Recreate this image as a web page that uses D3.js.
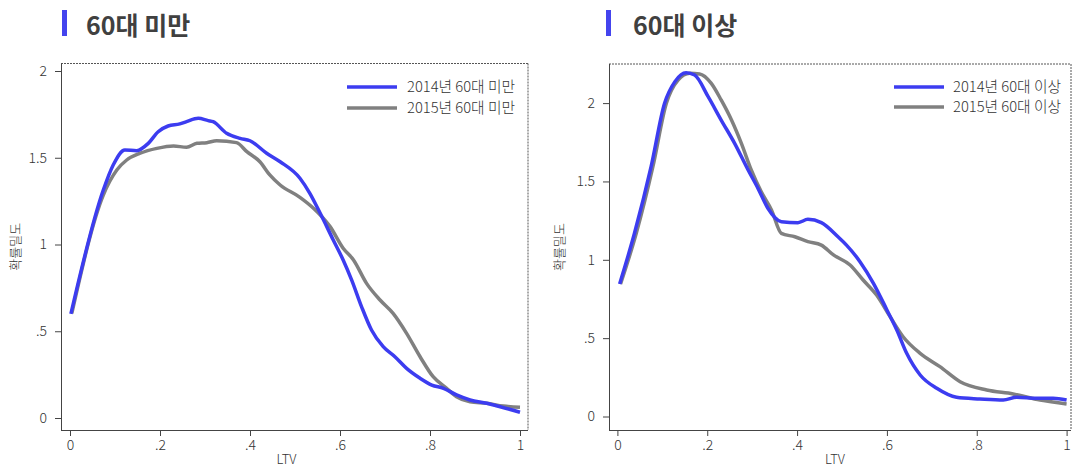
<!DOCTYPE html>
<html><head><meta charset="utf-8">
<script src="https://cdn.jsdelivr.net/npm/d3@7"></script>
<style>
body{margin:0;background:#fff;}
svg{display:block;}
text{font-family:"Noto Sans CJK KR","Noto Sans",sans-serif;}
</style></head>
<body><svg id="c" width="1072" height="468"></svg>
<script>
// ---- data ----
const titles = ["60대 미만", "60대 이상"];
const legendLabels = [["2014년 60대 미만", "2015년 60대 미만"], ["2014년 60대 이상", "2015년 60대 이상"]];
const xTicks = [0, 0.2, 0.4, 0.6, 0.8, 1];
const xTickLabels = ["0", ".2", ".4", ".6", ".8", "1"];
const yTicks = [0, 0.5, 1, 1.5, 2];
const yTickLabels = ["0", ".5", "1", "1.5", "2"];
const xLabel = "LTV";
const yLabel = "확률밀도";

// 60대 미만
const under2014 = [[0.002,0.60],[0.074,1.314],[0.096,1.458],[0.122,1.545],[0.148,1.541],[0.174,1.583],[0.196,1.650],[0.218,1.683],[0.244,1.695],[0.259,1.708],[0.285,1.727],[0.307,1.714],[0.318,1.708],[0.348,1.641],[0.378,1.612],[0.40,1.598],[0.437,1.526],[0.467,1.477],[0.511,1.382],[0.533,1.295],[0.556,1.18],[0.585,1.026],[0.607,0.911],[0.626,0.795],[0.648,0.641],[0.670,0.507],[0.696,0.411],[0.722,0.353],[0.748,0.286],[0.778,0.229],[0.804,0.190],[0.830,0.171],[0.859,0.133],[0.889,0.104],[0.926,0.085],[0.956,0.065],[1.0,0.033]];
const under2015 = [[0.004,0.603],[0.074,1.285],[0.104,1.429],[0.126,1.487],[0.156,1.526],[0.193,1.554],[0.23,1.568],[0.259,1.560],[0.282,1.583],[0.304,1.587],[0.326,1.598],[0.370,1.587],[0.393,1.535],[0.422,1.477],[0.444,1.401],[0.467,1.343],[0.511,1.272],[0.541,1.209],[0.578,1.103],[0.607,0.978],[0.630,0.911],[0.659,0.776],[0.689,0.680],[0.718,0.603],[0.748,0.488],[0.778,0.353],[0.807,0.238],[0.837,0.171],[0.859,0.123],[0.889,0.094],[0.926,0.085],[0.963,0.069],[1.0,0.062]];
// 60대 이상
const over2014 = [[0.005,0.846],[0.038,1.169],[0.075,1.594],[0.105,1.999],[0.128,2.137],[0.153,2.194],[0.172,2.179],[0.202,2.041],[0.231,1.892],[0.261,1.743],[0.291,1.573],[0.313,1.456],[0.335,1.329],[0.365,1.243],[0.402,1.237],[0.424,1.258],[0.454,1.237],[0.491,1.147],[0.510,1.094],[0.540,0.988],[0.570,0.850],[0.600,0.680],[0.622,0.552],[0.644,0.403],[0.674,0.265],[0.711,0.180],[0.755,0.123],[0.807,0.112],[0.859,0.105],[0.889,0.123],[0.933,0.116],[0.970,0.116],[1.0,0.105]];
const over2015 = [[0.007,0.846],[0.042,1.169],[0.079,1.594],[0.109,1.999],[0.135,2.147],[0.161,2.19],[0.183,2.186],[0.209,2.126],[0.231,2.02],[0.254,1.892],[0.276,1.743],[0.298,1.573],[0.32,1.435],[0.343,1.318],[0.365,1.169],[0.395,1.147],[0.424,1.116],[0.454,1.094],[0.481,1.031],[0.518,0.967],[0.547,0.871],[0.577,0.775],[0.607,0.637],[0.636,0.509],[0.674,0.403],[0.718,0.318],[0.763,0.222],[0.822,0.169],[0.881,0.144],[0.941,0.105],[1.0,0.080]];

const seriesSets = [[under2014, under2015], [over2014, over2015]];
const colors = ["#3c3cf0", "#808080"];

// ---- layout ----
const panels = [
  {frame:[61, 63.5, 528, 430], xr:[70, 520], yr:[418, 71], barX:62, titleX:86, legX:347, legTextX:407, legY:[87,108], yLabX:20},
  {frame:[609, 64, 1071, 430], xr:[617.4, 1066.6], yr:[416.5, 103.1], barX:606, titleX:633, legX:894, legTextX:953, legY:[87,107], yLabX:564}
];

const svg = d3.select("#c");

panels.forEach((p, i) => {
  const g = svg.append("g");
  const x = d3.scaleLinear().domain([0,1]).range(p.xr);
  const y = d3.scaleLinear().domain([0,2]).range(p.yr);
  const [fx0, fy0, fx1, fy1] = p.frame;

  // title
  g.append("rect").attr("x", p.barX).attr("y", 10).attr("width", 5).attr("height", 26).attr("fill", "#4444ee");
  g.append("text").attr("x", p.titleX).attr("y", 35).attr("font-size", 25).attr("font-weight", 700)
    .attr("fill", "#404040").text(titles[i]);

  // frame: top/right fine dotted, left/bottom solid
  g.append("line").attr("x1", fx0).attr("x2", fx1).attr("y1", fy0).attr("y2", fy0)
    .attr("stroke", "#555").attr("stroke-width", 1).attr("stroke-dasharray", "2,1");
  g.append("line").attr("x1", fx1).attr("x2", fx1).attr("y1", fy0).attr("y2", fy1)
    .attr("stroke", "#555").attr("stroke-width", 1).attr("stroke-dasharray", "2,1");

  // axes
  const xAxis = d3.axisBottom(x).tickValues(xTicks).tickFormat((d, k) => xTickLabels[k]).tickSizeOuter(0).tickSize(6).tickPadding(4);
  const yAxis = d3.axisLeft(y).tickValues(yTicks).tickFormat((d, k) => yTickLabels[k]).tickSizeOuter(0).tickSize(6).tickPadding(8);

  const gx = g.append("g").attr("transform", `translate(0,${fy1})`).call(xAxis);
  gx.select(".domain").remove();
  gx.append("line").attr("x1", fx0).attr("x2", fx1).attr("y1", 0.5).attr("y2", 0.5).attr("stroke", "#444");
  gx.selectAll(".tick line").attr("stroke", "#444");
  gx.selectAll(".tick text").attr("font-size", 14).attr("font-weight", 300).attr("fill", "#333")
    .attr("font-family", "'Noto Sans CJK KR', sans-serif");

  const gy = g.append("g").attr("transform", `translate(${fx0},0)`).call(yAxis);
  gy.select(".domain").remove();
  gy.append("line").attr("x1", 0.5).attr("x2", 0.5).attr("y1", fy0).attr("y2", fy1).attr("stroke", "#444");
  gy.selectAll(".tick line").attr("stroke", "#444");
  gy.selectAll(".tick text").attr("font-size", 14).attr("font-weight", 300).attr("fill", "#333")
    .attr("font-family", "'Noto Sans CJK KR', sans-serif");

  // axis titles
  g.append("text").attr("x", (fx0 + fx1) / 2 + (i === 0 ? -8 : -5)).attr("y", 464).attr("text-anchor", "middle")
    .attr("font-size", 13).attr("font-weight", 300).attr("fill", "#333").text(xLabel);
  g.append("text").attr("transform", `translate(${p.yLabX},${(fy0 + fy1) / 2}) rotate(-90)`)
    .attr("text-anchor", "middle").attr("font-size", 13).attr("font-weight", 300).attr("fill", "#333").text(yLabel);

  // lines
  const line = d3.line().x(d => x(d[0])).y(d => y(d[1])).curve(d3.curveMonotoneX);
  [1, 0].forEach(s => {
    g.append("path").datum(seriesSets[i][s]).attr("d", line).attr("fill", "none")
      .attr("stroke", colors[s]).attr("stroke-width", 3.5).attr("stroke-linejoin", "round");
  });

  // legend
  legendLabels[i].forEach((lab, k) => {
    g.append("line").attr("x1", p.legX).attr("x2", p.legX + 50).attr("y1", p.legY[k]).attr("y2", p.legY[k])
      .attr("stroke", colors[k]).attr("stroke-width", 3.5);
    g.append("text").attr("x", p.legTextX).attr("y", p.legY[k] + 5).attr("font-size", 15).attr("font-weight", 300)
      .attr("fill", "#333").attr("textLength", 108).attr("lengthAdjust", "spacingAndGlyphs").text(lab);
  });
});
</script></body></html>
